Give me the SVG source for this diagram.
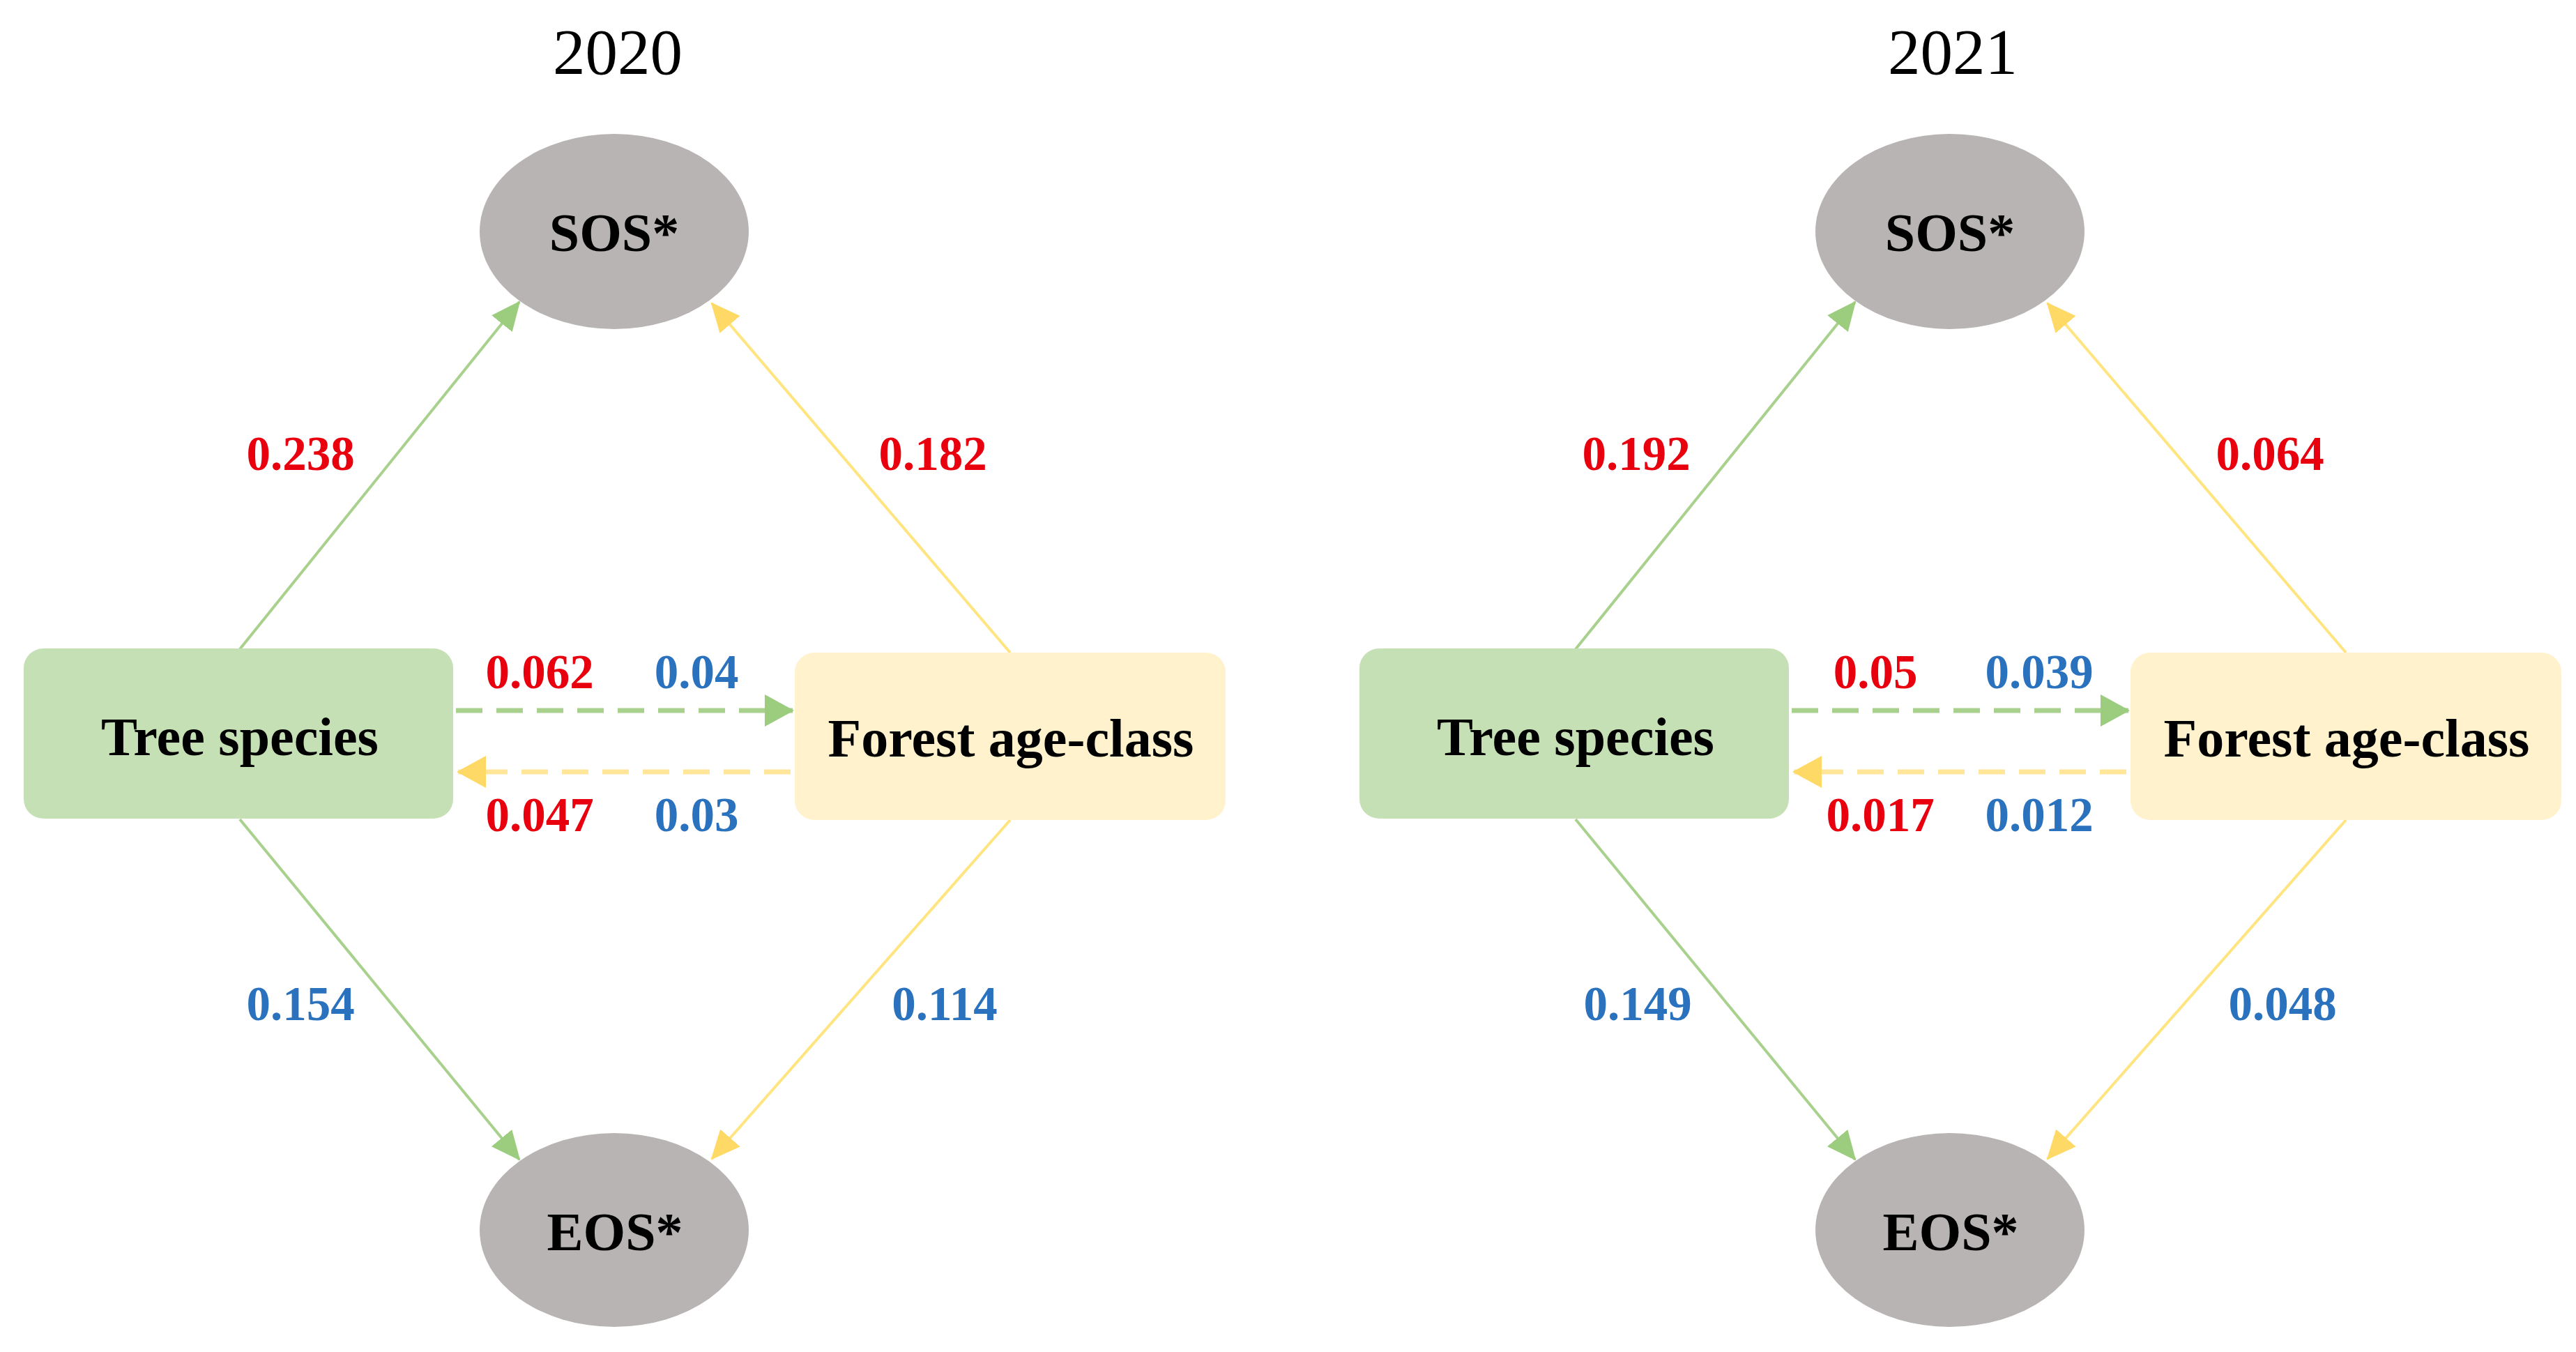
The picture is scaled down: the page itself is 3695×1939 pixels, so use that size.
<svg xmlns="http://www.w3.org/2000/svg" width="3695" height="1939" viewBox="0 0 3695 1939">
<style>
.title{font-family:"Liberation Serif","Times New Roman",serif;font-size:93px;fill:#000;text-anchor:middle}
.node{font-family:"Liberation Serif","Times New Roman",serif;font-size:78px;font-weight:bold;fill:#000;text-anchor:middle}
.num{font-family:"Liberation Serif","Times New Roman",serif;font-size:69px;font-weight:bold;text-anchor:middle}
.red{fill:#e8000e}
.blue{fill:#2a72bd}
.ell{fill:#b9b4b4}
.tree{fill:#c5e0b4}
.forest{fill:#fff2cc}
.gl{stroke:#a9d18e;stroke-width:4;fill:none}
.yl{stroke:#ffe47f;stroke-width:4;fill:none}
.gd{stroke:#a9d18e;stroke-width:7;fill:none;stroke-dasharray:38 20}
.yd{stroke:#ffe699;stroke-width:7;fill:none;stroke-dasharray:38 20}
</style>
<defs>
<marker id="ag" markerUnits="userSpaceOnUse" markerWidth="44" markerHeight="40" refX="40" refY="19" orient="auto"><path d="M0,0 L42,19 L0,38 z" fill="#9ccc7e"/></marker>
<marker id="ay" markerUnits="userSpaceOnUse" markerWidth="44" markerHeight="40" refX="40" refY="19" orient="auto"><path d="M0,0 L42,19 L0,38 z" fill="#ffd966"/></marker>
<marker id="agd" markerUnits="userSpaceOnUse" markerWidth="44" markerHeight="48" refX="40" refY="23" orient="auto"><path d="M0,0 L42,23 L0,46 z" fill="#9ccc7e"/></marker>
<marker id="ayd" markerUnits="userSpaceOnUse" markerWidth="44" markerHeight="48" refX="40" refY="23" orient="auto"><path d="M0,0 L42,23 L0,46 z" fill="#ffd966"/></marker>
</defs>
<rect width="3695" height="1939" fill="#fff"/>

<g id="connectors">
<line class="gl" x1="344" y1="931" x2="745" y2="433" marker-end="url(#ag)"/>
<line class="yl" x1="1449" y1="936" x2="1021" y2="435" marker-end="url(#ay)"/>
<line class="gl" x1="344" y1="1175" x2="745" y2="1663" marker-end="url(#ag)"/>
<line class="yl" x1="1449" y1="1176" x2="1021" y2="1662" marker-end="url(#ay)"/>
<line class="gd" x1="654" y1="1019" x2="1137" y2="1019" marker-end="url(#agd)"/>
<line class="yd" x1="1134" y1="1107" x2="657" y2="1107" marker-end="url(#ayd)"/>

<line class="gl" x1="2260" y1="931" x2="2661" y2="433" marker-end="url(#ag)"/>
<line class="yl" x1="3365" y1="936" x2="2937" y2="435" marker-end="url(#ay)"/>
<line class="gl" x1="2260" y1="1175" x2="2661" y2="1663" marker-end="url(#ag)"/>
<line class="yl" x1="3365" y1="1176" x2="2937" y2="1662" marker-end="url(#ay)"/>
<line class="gd" x1="2570" y1="1019" x2="3053" y2="1019" marker-end="url(#agd)"/>
<line class="yd" x1="3050" y1="1107" x2="2573" y2="1107" marker-end="url(#ayd)"/>
</g>

<text class="title" x="886" y="106">2020</text>
<text class="title" x="2801" y="106">2021</text>

<g id="sos-2020"><ellipse class="ell" cx="881" cy="332" rx="193" ry="140"/><text class="node" x="881" y="360">SOS*</text></g>
<g id="eos-2020"><ellipse class="ell" cx="881" cy="1764" rx="193" ry="139"/><text class="node" x="882" y="1793">EOS*</text></g>
<g id="tree-2020"><rect class="tree" x="34" y="930" width="616" height="244" rx="28"/><text class="node" x="344" y="1083">Tree species</text></g>
<g id="forest-2020"><rect class="forest" x="1140" y="936" width="618" height="240" rx="28"/><text class="node" x="1450" y="1085">Forest age-class</text></g>

<g id="sos-2021"><ellipse class="ell" cx="2797" cy="332" rx="193" ry="140"/><text class="node" x="2797" y="360">SOS*</text></g>
<g id="eos-2021"><ellipse class="ell" cx="2797" cy="1764" rx="193" ry="139"/><text class="node" x="2798" y="1793">EOS*</text></g>
<g id="tree-2021"><rect class="tree" x="1950" y="930" width="616" height="244" rx="28"/><text class="node" x="2260" y="1083">Tree species</text></g>
<g id="forest-2021"><rect class="forest" x="3056" y="936" width="618" height="240" rx="28"/><text class="node" x="3366" y="1085">Forest age-class</text></g>

<g id="labels">
<text class="num red" x="431" y="674">0.238</text>
<text class="num red" x="1338" y="674">0.182</text>
<text class="num red" x="774" y="987">0.062</text>
<text class="num blue" x="999" y="987">0.04</text>
<text class="num red" x="774" y="1192">0.047</text>
<text class="num blue" x="999" y="1192">0.03</text>
<text class="num blue" x="431" y="1463">0.154</text>
<text class="num blue" x="1355" y="1463">0.114</text>

<text class="num red" x="2347" y="674">0.192</text>
<text class="num red" x="3256" y="674">0.064</text>
<text class="num red" x="2690" y="987">0.05</text>
<text class="num blue" x="2925" y="987">0.039</text>
<text class="num red" x="2697" y="1192">0.017</text>
<text class="num blue" x="2925" y="1192">0.012</text>
<text class="num blue" x="2349" y="1463">0.149</text>
<text class="num blue" x="3274" y="1463">0.048</text>
</g>
</svg>
